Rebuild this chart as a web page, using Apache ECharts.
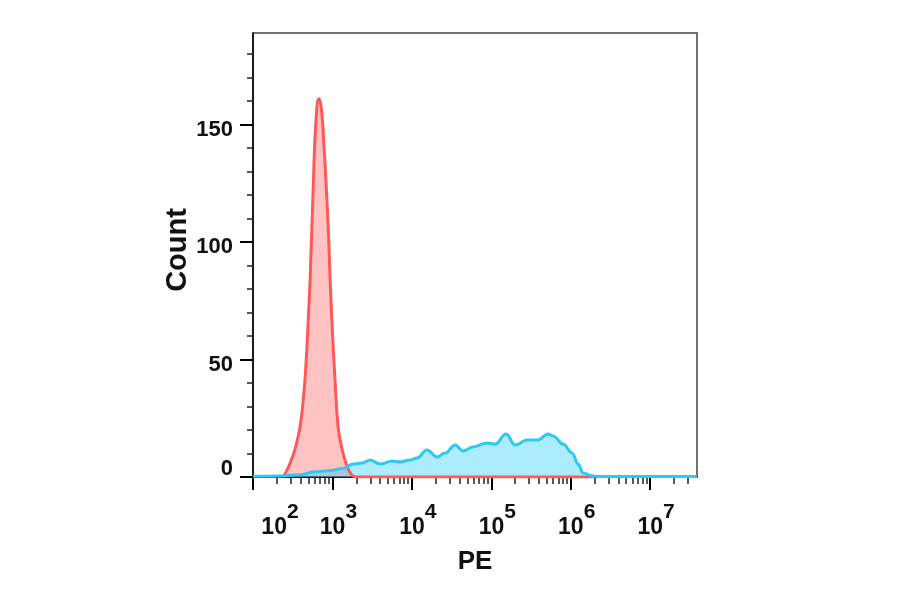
<!DOCTYPE html>
<html><head><meta charset="utf-8">
<script src="https://cdn.jsdelivr.net/npm/echarts@6/dist/echarts.min.js"></script>
<style>html,body{margin:0;padding:0;background:#fff}#c{width:900px;height:594px}</style>
</head><body><div id="c"></div>
<script>
// Red (control) histogram: x in log10(PE), y = count
const redLog   = [2.38, 2.43, 2.48, 2.53, 2.59, 2.63, 2.66, 2.70, 2.72, 2.76, 2.79, 2.83, 2.86, 2.89, 2.92, 2.95, 2.97, 3.00, 3.03, 3.07, 3.12, 3.18, 3.24, 3.30, 3.6, 4.2, 5.0, 5.8, 6.3];
const redCount = [0, 3, 7, 12, 21, 32, 44, 70, 85, 125, 150, 161, 157, 143, 125, 104, 85, 62, 43, 22, 12, 5, 1, 0, 0, 0, 0, 0, 0];
// Blue (stained) histogram
const blueLog   = [2.0, 2.35, 2.6, 2.78, 2.97, 3.133, 3.259, 3.373, 3.474, 3.599, 3.751, 3.851, 3.977, 4.065, 4.191, 4.317, 4.418, 4.544, 4.645, 4.771, 4.947, 5.048, 5.186, 5.300, 5.451, 5.589, 5.715, 5.778, 5.904, 6.018, 6.093, 6.156, 6.282, 6.37, 7.0, 7.59];
const blueCount = [0.3, 0.4, 1.0, 2.2, 2.8, 3.6, 5.5, 6.0, 7.2, 5.5, 6.8, 6.4, 7.2, 8.1, 11.5, 8.5, 10.2, 13.6, 11.1, 12.8, 14.5, 14.0, 18.3, 13.6, 15.8, 15.8, 18.3, 17.5, 14.0, 10.2, 5.5, 1.7, 0.4, 0.2, 0.2, 0.2];
// Axes
const xMajor = [2, 3, 4, 5, 6, 7];
const xExponents = ['2', '3', '4', '5', '6', '7'];
const yMajor = [0, 50, 100, 150];
const yMinor = [10, 20, 30, 40, 60, 70, 80, 90, 110, 120, 130, 140, 160, 170, 180];
const xMinor = [];
for (let k = 2; k <= 7; k++) for (let m = 2; m <= 9; m++) { const v = k + Math.log10(m); if (v < 7.59) xMinor.push(v); }

const font = '"Liberation Sans", Arial, Helvetica, sans-serif';
const chart = echarts.init(document.getElementById('c'));
const zip = (a, b) => a.map((v, i) => [v, b[i]]);
const xLo = 2, xHi = 7.59, yLo = 0, yHi = 189;

chart.setOption({
  animation: false,
  backgroundColor: '#fff',
  grid: { left: 253, top: 33, right: 203, bottom: 117, show: true, borderColor: '#444', borderWidth: 1.5 },
  xAxis: [{
    type: 'value', min: xLo, max: xHi, position: 'bottom',
    axisLine: { show: true, onZero: false, lineStyle: { color: '#000', width: 1.5 } },
    axisTick: { show: true, customValues: xMajor, length: 13, lineStyle: { color: '#000', width: 2 } },
    axisLabel: {
      customValues: xMajor, margin: 25,
      formatter: function (v) {
        const i = xMajor.indexOf(v);
        return (i === 0 ? '{b0|10}' : '{b|10}') + '{s|' + xExponents[i] + '}';
      },
      rich: {
        b:  { fontFamily: font, fontWeight: 'bold', fontSize: 23, color: '#111', lineHeight: 37, verticalAlign: 'bottom', padding: [0, 0, 0, 12] },
        b0: { fontFamily: font, fontWeight: 'bold', fontSize: 23, color: '#111', lineHeight: 37, verticalAlign: 'bottom', padding: [0, 0, 0, 54] },
        s:  { fontFamily: font, fontWeight: 'bold', fontSize: 21, color: '#111', verticalAlign: 'top' }
      }
    },
    splitLine: { show: false },
    name: 'PE', nameLocation: 'middle', nameGap: 72,
    nameTextStyle: { fontFamily: font, fontWeight: 'bold', fontSize: 26, color: '#111' }
  }, {
    type: 'value', min: xLo, max: xHi, position: 'bottom',
    axisLine: { show: false },
    axisTick: { show: true, customValues: xMinor, length: 7, lineStyle: { color: '#222', width: 1.5 } },
    axisLabel: { show: false }, splitLine: { show: false }
  }],
  yAxis: [{
    type: 'value', min: yLo, max: yHi, position: 'left',
    axisLine: { show: true, onZero: false, lineStyle: { color: '#000', width: 1.5 } },
    axisTick: { show: true, customValues: yMajor, length: 13, lineStyle: { color: '#000', width: 2 } },
    axisLabel: {
      customValues: yMajor, margin: 20,
      formatter: v => v === 0 ? '{z|0}' : '{n|' + v + '}',
      rich: {
        n: { fontFamily: font, fontWeight: 'bold', fontSize: 22, color: '#111', padding: [10, 0, 0, 0] },
        z: { fontFamily: font, fontWeight: 'bold', fontSize: 22, color: '#111', padding: [0, 0, 16, 0] }
      }
    },
    splitLine: { show: false },
    name: 'Count', nameLocation: 'middle', nameGap: 55,
    nameTextStyle: { fontFamily: font, fontWeight: 'bold', fontSize: 29, color: '#111', padding: [0, 0, 0, 10] }
  }, {
    type: 'value', min: yLo, max: yHi, position: 'left',
    axisLine: { show: false },
    axisTick: { show: true, customValues: yMinor, length: 6, lineStyle: { color: '#222', width: 1.5 } },
    axisLabel: { show: false }, splitLine: { show: false }
  }],
  series: [{
    type: 'line', xAxisIndex: 0, yAxisIndex: 0, data: zip(redLog, redCount),
    showSymbol: false, smooth: 0.5,
    lineStyle: { color: '#ff5858', width: 3 },
    areaStyle: { color: 'rgba(255,85,85,0.5)' }
  }, {
    type: 'line', xAxisIndex: 0, yAxisIndex: 0, data: zip(blueLog, blueCount),
    showSymbol: false, smooth: 0.4, smoothMonotone: 'x',
    lineStyle: { color: '#2ec8f5', width: 3 },
    areaStyle: { color: 'rgba(40,205,250,0.55)' }
  }]
});
</script></body></html>
